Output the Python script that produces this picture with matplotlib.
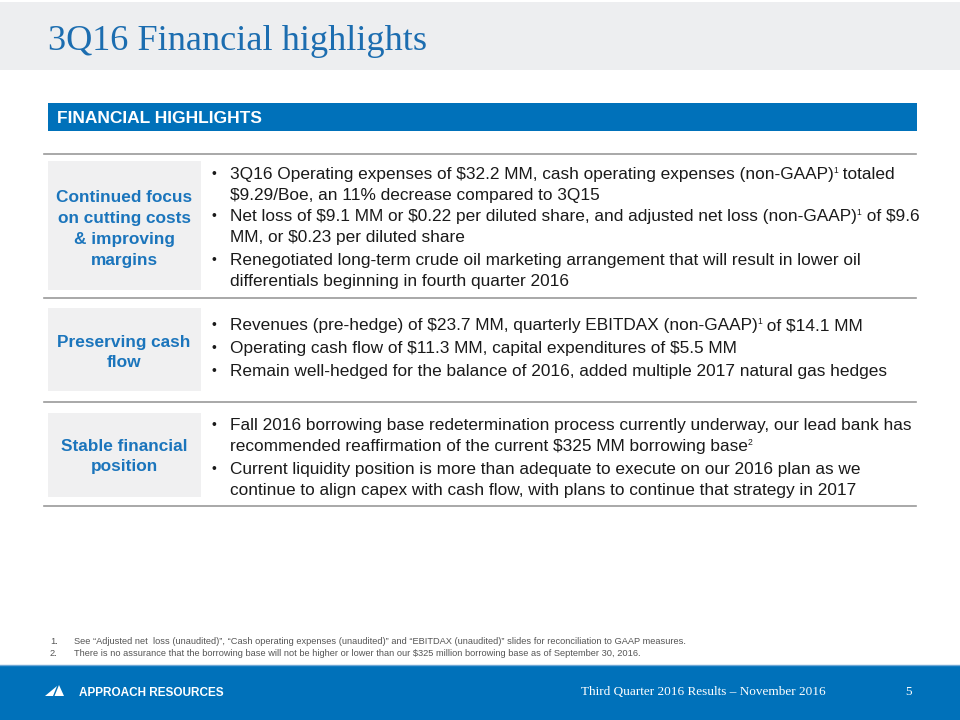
import matplotlib
matplotlib.use("Agg")
import matplotlib.pyplot as plt
from matplotlib.patches import Rectangle, Polygon

# ---------------- content ----------------
title_text = "3Q16 Financial highlights"
header_text = "FINANCIAL HIGHLIGHTS"
row_labels = [
    ["Continued focus", "on cutting costs", "& improving", "margins"],
    ["Preserving cash", "flow"],
    ["Stable financial", "position"],
]
# each bullet is a list of lines; each line a list of (text, is_superscript)
row_bullets = [
    [
        [[("3Q16 Operating expenses of $32.2 MM, cash operating expenses (non-GAAP)", False), ("1", True), (" totaled", False)],
         [("$9.29/Boe, an 11% decrease compared to 3Q15", False)]],
        [[("Net loss of $9.1 MM or $0.22 per diluted share, and adjusted net loss (non-GAAP)", False), ("1", True), (" of $9.6", False)],
         [("MM, or $0.23 per diluted share", False)]],
        [[("Renegotiated long-term crude oil marketing arrangement that will result in lower oil", False)],
         [("differentials beginning in fourth quarter 2016", False)]],
    ],
    [
        [[("Revenues (pre-hedge) of $23.7 MM, quarterly EBITDAX (non-GAAP)", False), ("1", True), (" of $14.1 MM", False)]],
        [[("Operating cash flow of $11.3 MM, capital expenditures of $5.5 MM", False)]],
        [[("Remain well-hedged for the balance of 2016, added multiple 2017 natural gas hedges", False)]],
    ],
    [
        [[("Fall 2016 borrowing base redetermination process currently underway, our lead bank has", False)],
         [("recommended reaffirmation of the current $325 MM borrowing base", False), ("2", True)]],
        [[("Current liquidity position is more than adequate to execute on our 2016 plan as we", False)],
         [("continue to align capex with cash flow, with plans to continue that strategy in 2017", False)]],
    ],
]
footnotes = [
    ("1.", "See \u201cAdjusted net  loss (unaudited)\u201d, \u201cCash operating expenses (unaudited)\u201d and \u201cEBITDAX (unaudited)\u201d slides for reconciliation to GAAP measures."),
    ("2.", "There is no assurance that the borrowing base will not be higher or lower than our $325 million borrowing base as of September 30, 2016."),
]
company_text = "APPROACH RESOURCES"
footer_text = "Third Quarter 2016 Results \u2013 November 2016"
page_text = "5"

# ---------------- layout / style ----------------
W, H = 960, 720
BLUE = "#0071BA"
TITLE_BLUE = "#1C6DB0"
LABEL_BLUE = "#1B75BC"
GREY_BAND = "#EDEEF0"
BOX_GREY = "#F0F0F1"
LINE_GREY = "#9A9A9A"
TEXT = "#1A1A1A"
SANS = ["Liberation Sans", "DejaVu Sans"]
SERIF = ["Liberation Serif", "DejaVu Serif"]

fig = plt.figure(figsize=(9.6, 7.2), dpi=100)
ax = fig.add_axes([0, 0, 1, 1])
ax.set_xlim(0, W)
ax.set_ylim(H, 0)
ax.axis("off")
renderer = fig.canvas.get_renderer()


def txt(x, y, s, **kw):
    kw.setdefault("va", "baseline")
    return ax.text(x, y, s, parse_math=False, **kw)


def width_of(t):
    return t.get_window_extent(renderer).width


def fit_size(s, target, family, weight="normal", base=12):
    t = txt(0, 0, s, fontsize=base, family=family, weight=weight)
    w = width_of(t)
    t.remove()
    return base * target / w


def rich_line(x, y, segs, size, color, family):
    for s, sup in segs:
        if sup:
            t = txt(x, y - size * 0.5, s, fontsize=size * 0.5, family=family, color=color)
        else:
            t = txt(x, y, s, fontsize=size, family=family, color=color)
        x += width_of(t)


# top grey band
ax.add_patch(Rectangle((0, 2), W, 68, color=GREY_BAND, lw=0))
ts = fit_size(title_text, 377, SERIF)
txt(48, 50, title_text, fontsize=ts, family=SERIF, color=TITLE_BLUE)

# header bar
ax.add_patch(Rectangle((48, 103), 869, 28, color=BLUE, lw=0))
hs = fit_size(header_text, 204, SANS, "bold")
txt(57, 123, header_text, fontsize=hs, family=SANS, weight="bold", color="white")

# rows
body = fit_size("Remain well-hedged for the balance of 2016, added multiple 2017 natural gas hedges", 659, SANS)
lab = fit_size("on cutting costs", 133, SANS, "bold")

sep_lines = [154, 298, 402, 506]
for yl in sep_lines:
    ax.plot([44, 916], [yl, yl], color=LINE_GREY, lw=1.2)

boxes = [(161, 290), (308, 391), (413, 497)]
label_baselines = [[202, 223, 244, 265], [347, 367], [451, 471]]
bullet_baselines = [[179, 200, 221, 242, 265, 286], [330, 353, 376], [430, 451, 474, 495]]

for r in range(3):
    y0, y1 = boxes[r]
    ax.add_patch(Rectangle((48, y0), 153, y1 - y0, color=BOX_GREY, lw=0))
    for s, yb in zip(row_labels[r], label_baselines[r]):
        txt(124, yb, s, fontsize=lab, family=SANS, weight="bold", color=LABEL_BLUE, ha="center")
    k = 0
    for bullet in row_bullets[r]:
        for i, line in enumerate(bullet):
            yb = bullet_baselines[r][k]
            if i == 0:
                txt(211, yb - 1, "\u2022", fontsize=body * 0.8, family=SANS, color=TEXT)
            rich_line(230, yb, line, body, TEXT, SANS)
            k += 1

# footnotes
NARROW = ["Liberation Sans Narrow", "Liberation Sans", "DejaVu Sans"]
fs = fit_size(footnotes[0][1], 614, NARROW)
for (n, s), yb in zip(footnotes, [644, 656]):
    txt(50, yb, n, fontsize=fs, family=NARROW, color="#555555")
    txt(74, yb, s, fontsize=fs, family=NARROW, color="#555555")

# footer
ax.add_patch(Rectangle((0, 665), W, 55, color=BLUE, lw=0))
ax.plot([0, W], [665, 665], color="#6FA8D6", lw=1)
ax.add_patch(Polygon([(45, 696), (57, 686), (53, 696)], closed=True, color="white", lw=0))
ax.add_patch(Polygon([(54.5, 696), (59, 685), (64, 696)], closed=True, color="white", lw=0))
cs = fit_size(company_text, 145, SANS, "bold")
txt(79, 696, company_text, fontsize=cs, family=SANS, weight="bold", color="white")
fts = fit_size(footer_text, 243, SERIF)
txt(581, 695, footer_text, fontsize=fts, family=SERIF, color="white")
txt(905, 695, page_text, fontsize=fts, family=SERIF, color="white")

fig.savefig("out.png", dpi=100)
